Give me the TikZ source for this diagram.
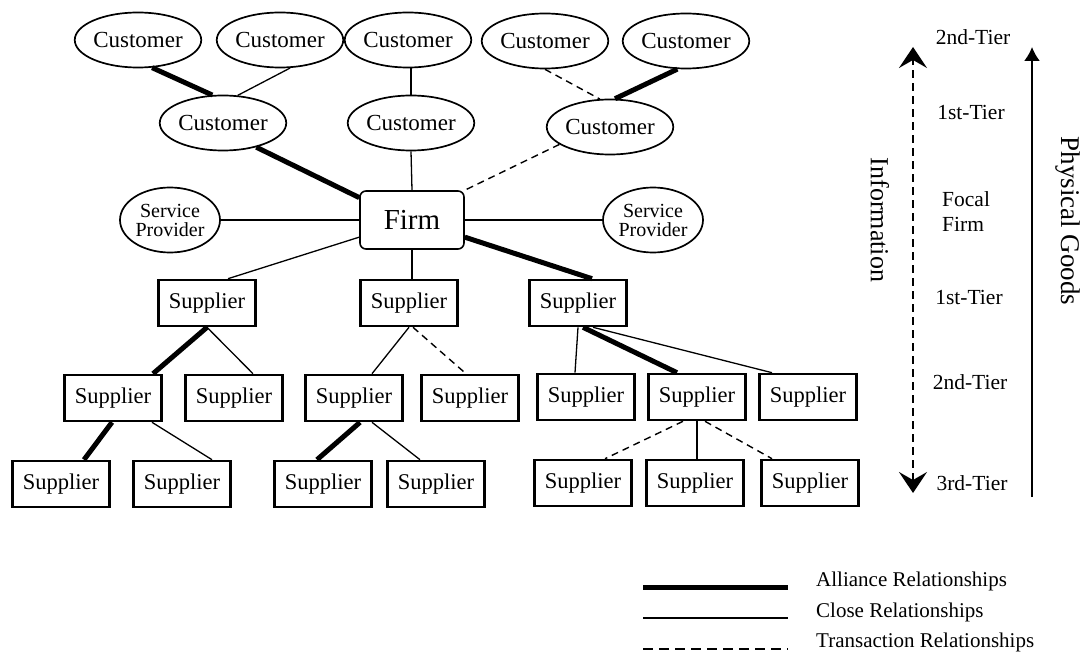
\documentclass[tikz,border=0pt]{standalone}
\usepackage{fontspec}
\setmainfont{Liberation Serif}
\usetikzlibrary{arrows.meta,shapes.geometric}

\begin{document}
\begin{tikzpicture}[x=1pt,y=-1pt,
  cust/.style={ellipse, draw, line width=1.7pt, minimum width=116pt, minimum height=55pt,
    inner sep=0pt, font=\fontsize{23}{25}\selectfont},
  serv/.style={ellipse, draw, line width=1.7pt, minimum width=100pt, minimum height=65pt,
    inner sep=0pt, align=center, font=\fontsize{20}{19}\selectfont},
  firmbox/.style={rectangle, rounded corners=6pt, draw, line width=1.6pt,
    minimum width=104pt, minimum height=58pt, inner sep=0pt, font=\fontsize{29}{31}\selectfont},
  supp/.style={rectangle, draw, line width=2.6pt, minimum width=97pt, minimum height=46pt,
    inner sep=0pt, font=\fontsize{22.5}{24}\selectfont},
  tier/.style={font=\fontsize{21.5}{25}\selectfont, inner sep=0pt},
  legtext/.style={font=\fontsize{21}{23}\selectfont, anchor=west, inner sep=0pt},
  alliance/.style={line width=5pt},
  close/.style={line width=1.3pt},
  transaction/.style={line width=1.4pt, dash pattern=on 7pt off 5pt},
]
\useasboundingbox (0,0) rectangle (1084,652);

% customers
\node[cust] (C1) at (138,40) {Customer};
\node[cust] (C2) at (280,40) {Customer};
\node[cust] (C3) at (408,40) {Customer};
\node[cust] (C4) at (545,41) {Customer};
\node[cust] (C5) at (686,41) {Customer};
\node[cust] (C6) at (223,123) {Customer};
\node[cust] (C7) at (411,123) {Customer};
\node[cust] (C8) at (610,127) {Customer};

% focal firm and service providers
\node[firmbox] (Firm) at (412,220) {Firm};
\node[serv] (SPl) at (170,220) {Service\\Provider};
\node[serv] (SPr) at (653,220) {Service\\Provider};

% suppliers
\node[supp] (S1) at (207,303) {Supplier};
\node[supp] (S2) at (409,303) {Supplier};
\node[supp] (S3) at (578,303) {Supplier};
\node[supp] (S4) at (113,398) {Supplier};
\node[supp] (S5) at (234,398) {Supplier};
\node[supp] (S6) at (354,398) {Supplier};
\node[supp] (S7) at (470,398) {Supplier};
\node[supp] (S8) at (586,397) {Supplier};
\node[supp] (S9) at (697,397) {Supplier};
\node[supp] (S10) at (808,397) {Supplier};
\node[supp] (S11) at (61,484) {Supplier};
\node[supp] (S12) at (182,484) {Supplier};
\node[supp] (S13) at (323,484) {Supplier};
\node[supp] (S14) at (436,484) {Supplier};
\node[supp] (S15) at (583,483) {Supplier};
\node[supp] (S16) at (695,483) {Supplier};
\node[supp] (S17) at (810,483) {Supplier};

% customer side relationships
\draw[alliance] (C1.-63) -- (C6.111);
\draw[close] (C2.-70) -- (C6.62);
\draw[close] (C3.south -| C7.north) -- (C7.north);
\draw[transaction] (C4.south) -- (C8.110);
\draw[alliance] (C5.-107) -- (C8.80);
\draw[alliance] (C6.-36) -- (Firm.157);
\draw[close] (C7.south) -- (Firm.north);
\draw[transaction] (C8.199) -- (Firm.north east);
\draw[close] (SPl.east) -- (Firm.west);
\draw[close] (Firm.east) -- (SPr.west);

% supplier side relationships
\draw[close] (Firm.198) -- ([xshift=21pt]S1.north);
\draw[close] (Firm.south) -- (Firm.south |- S2.north);
\draw[alliance] (Firm.-18) -- ([xshift=14pt]S3.north);
\draw[alliance] (S1.south) -- ([xshift=40pt]S4.north);
\draw[close] (S1.south) -- ([xshift=19pt]S5.north);
\draw[close] (S2.south) -- ([xshift=18pt]S6.north);
\draw[transaction] ([xshift=4pt]S2.south) -- ([xshift=-4pt]S7.north);
\draw[close] (S3.south) -- ([xshift=-11pt]S8.north);
\draw[alliance] ([xshift=5pt]S3.south) -- ([xshift=-20pt]S9.north);
\draw[close] ([xshift=15pt]S3.south) -- ([xshift=-36pt]S10.north);
\draw[alliance] ([xshift=-1pt]S4.south) -- ([xshift=23pt]S11.north);
\draw[close] ([xshift=39pt]S4.south) -- ([xshift=30pt]S12.north);
\draw[alliance] ([xshift=6pt]S6.south) -- ([xshift=-6pt]S13.north);
\draw[close] ([xshift=18pt]S6.south) -- ([xshift=-16pt]S14.north);
\draw[transaction] ([xshift=-14pt]S9.south) -- ([xshift=22pt]S15.north);
\draw[close] (S9.south) -- (S9.south |- S16.north);
\draw[transaction] ([xshift=8pt]S9.south) -- ([xshift=-38pt]S17.north);

% flow axes
\coordinate (infoTop) at (913,47);
\coordinate (infoBot) at (913,493);
\coordinate (goodsTop) at (1032,47);
\coordinate (goodsBot) at (1032,497);
\draw[line width=1.8pt, dash pattern=on 8pt off 5pt,
  {Stealth[length=21pt,width=28pt,inset=8pt]}-{Stealth[length=21pt,width=28pt,inset=8pt]}]
  (infoBot) -- (infoTop);
\draw[line width=1.8pt, -{Latex[length=14pt,width=16pt]}] (goodsBot) -- (goodsTop);
\node[rotate=-90, font=\fontsize{26}{28}\selectfont] (infoLbl) at (880,220) {Information};
\node[rotate=-90, font=\fontsize{27}{29}\selectfont] (goodsLbl) at (1068,221) {Physical Goods};

% tier labels
\node[tier] (t1) at (973,37) {2nd-Tier};
\node[tier] (t2) at (971,112) {1st-Tier};
\node[tier, align=left, anchor=west] (t3) at (942,212) {Focal\\Firm};
\node[tier] (t4) at (969,297) {1st-Tier};
\node[tier] (t5) at (970,382) {2nd-Tier};
\node[tier] (t6) at (972,483) {3rd-Tier};

% legend
\coordinate (la1) at (643,587);
\coordinate (la2) at (788,587);
\coordinate (lc1) at (643,618);
\coordinate (lc2) at (788,618);
\coordinate (lt1) at (643,649);
\coordinate (lt2) at (788,649);
\draw[alliance] (la1) -- (la2);
\draw[close] (lc1) -- (lc2);
\draw[line width=1.5pt, dash pattern=on 10pt off 6pt] (lt1) -- (lt2);
\node[legtext] (lg1) at (816,581) {Alliance Relationships};
\node[legtext] (lg2) at (816,612) {Close Relationships};
\node[legtext] (lg3) at (816,642) {Transaction Relationships};
\end{tikzpicture}
\end{document}
